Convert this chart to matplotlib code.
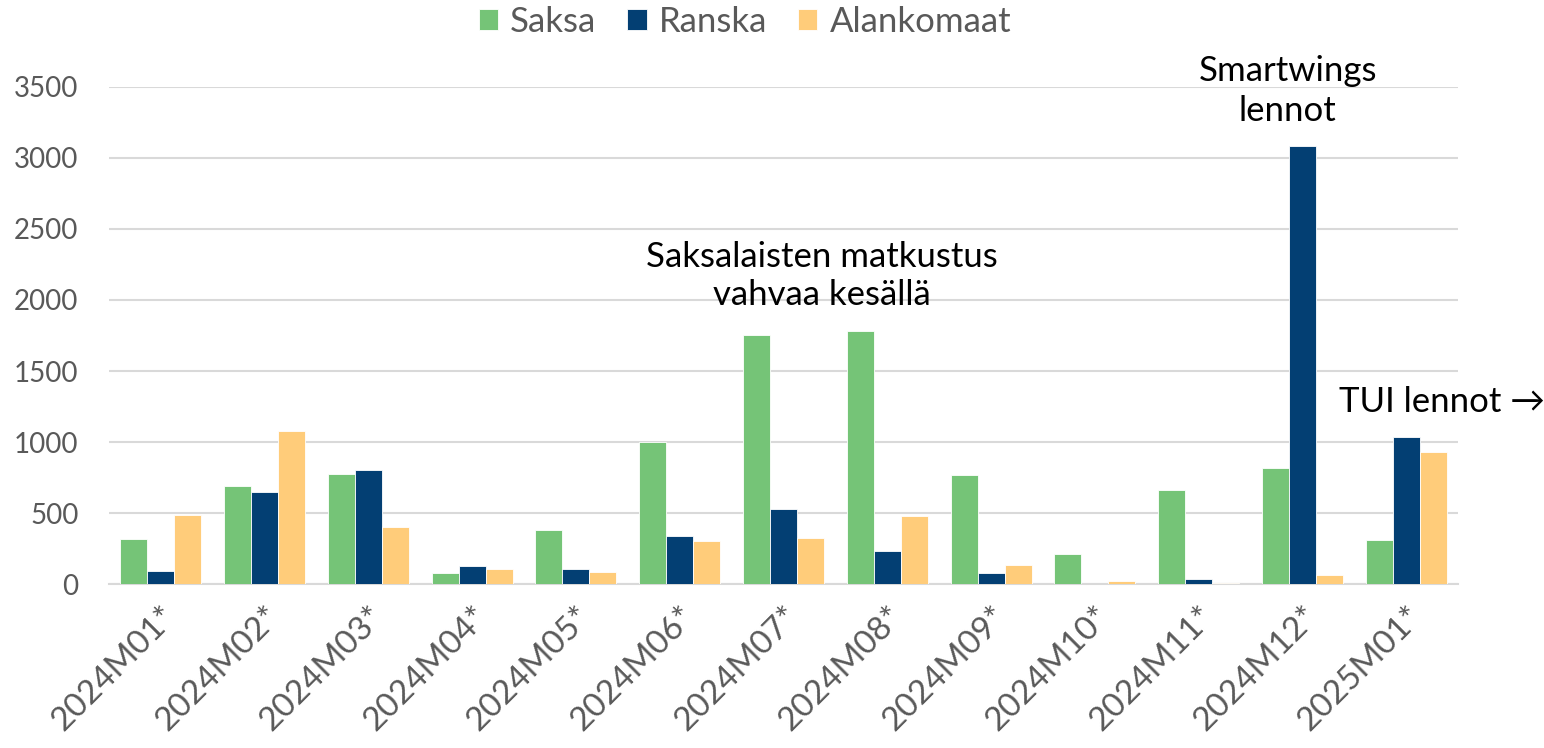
import matplotlib
matplotlib.use("Agg")
import matplotlib.pyplot as plt
import numpy as np

categories = ["2024M01*", "2024M02*", "2024M03*", "2024M04*", "2024M05*", "2024M06*",
              "2024M07*", "2024M08*", "2024M09*", "2024M10*", "2024M11*", "2024M12*", "2025M01*"]
saksa = [316, 693, 773, 80, 381, 997, 1750, 1778, 765, 209, 662, 817, 313]
ranska = [94, 648, 806, 129, 108, 339, 526, 235, 82, 1, 33, 3080, 1033]
alankomaat = [488, 1075, 403, 108, 87, 305, 325, 480, 132, 21, 9, 64, 929]
series_names = ["Saksa", "Ranska", "Alankomaat"]
colors = ["#75C477", "#033F73", "#FFCC7A"]
yticks = [0, 500, 1000, 1500, 2000, 2500, 3000, 3500]

plt.rcParams['font.family'] = ['Lato', 'DejaVu Sans']

fig = plt.figure(figsize=(15.44, 7.48), dpi=100)
ax = fig.add_axes([0.0706, 0.219, 0.8737, 0.665])

x = np.arange(len(categories))
w = 0.26
for i, (vals, name, c) in enumerate(zip([saksa, ranska, alankomaat], series_names, colors)):
    ax.bar(x + (i - 1) * w, vals, w, color=c, label=name, edgecolor="white", linewidth=0.6, zorder=3)

ax.set_xlim(-0.5, len(categories) - 0.5)
ax.set_ylim(0, 3500)
ax.set_yticks(yticks)
ax.set_yticklabels([str(v) for v in yticks], fontsize=20, color="#595959")
ax.tick_params(axis="y", length=0, pad=22)
ax.set_xticks(x)
ax.set_xticklabels(categories, rotation=45, ha="right", rotation_mode="anchor",
                   fontsize=24, color="#595959")
ax.tick_params(axis="x", length=0, pad=12)
ax.yaxis.grid(True, color="#D9D9D9", linewidth=1.5, zorder=0)
ax.set_axisbelow(True)
for s in ["top", "right", "left"]:
    ax.spines[s].set_visible(False)
ax.spines["bottom"].set_color("#D9D9D9")
ax.spines["bottom"].set_linewidth(1.5)

fig.legend(loc="center", bbox_to_anchor=(0.4825, 0.971), ncol=3, frameon=False,
           fontsize=25, labelcolor="#595959", handlelength=0.55, handleheight=0.55,
           columnspacing=0.9, handletextpad=0.35)

ax.text(6.37, 2170, "Saksalaisten matkustus\nvahvaa kesällä", ha="center", va="center",
        fontsize=25, color="black", linespacing=1.25)
ax.text(10.86, 3471, "Smartwings\nlennot", ha="center", va="center",
        fontsize=25, color="black", linespacing=1.3, clip_on=False)
ax.text(11.35, 1285, "TUI lennot →", ha="left", va="center",
        fontsize=25, color="black", clip_on=False)

fig.savefig("out.png", dpi=100)
